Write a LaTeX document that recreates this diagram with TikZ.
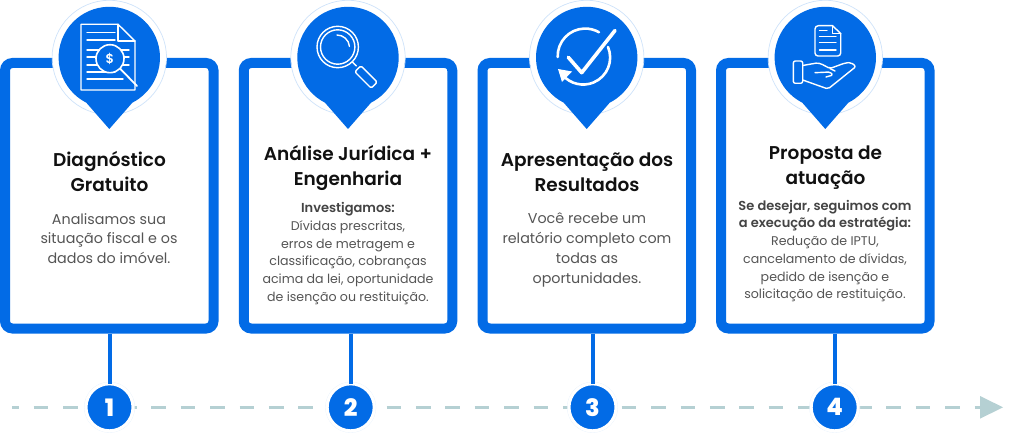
\documentclass[tikz,border=0pt]{standalone}
\usepackage{fontspec}
\setmainfont{Poppins}[BoldFont={Poppins SemiBold}]
\newfontfamily\numfont{Poppins ExtraBold}
\usetikzlibrary{calc}
\definecolor{brand}{HTML}{026BE6}
\definecolor{ringc}{HTML}{CFE3FA}
\definecolor{dashc}{HTML}{B5D0D3}
\definecolor{bodyc}{HTML}{555555}
\definecolor{boldc}{HTML}{444444}
\definecolor{headc}{HTML}{111111}
\newcommand{\boldline}[1]{\textcolor{boldc}{\fontsize{13}{17.6}\selectfont\textbf{#1}}}
\tikzset{
 cardbox/.style={draw=brand,line width=10pt,rounded corners=7.5pt,minimum width=208.5pt,minimum height=265.5pt,inner sep=0,outer sep=0,fill=white},
 headtext/.style={font=\fontsize{18.5}{25}\selectfont\bfseries,text=headc,align=center,inner sep=0},
 bodytext/.style={font=\fontsize{14.3}{19.7}\selectfont,text=bodyc,align=center,inner sep=0},
 smalltext/.style={font=\fontsize{12.6}{17.7}\selectfont,text=bodyc,align=center,inner sep=0},
 numdot/.style={circle,fill=brand,draw=white,line width=3pt,minimum size=47pt,inner sep=0,outer sep=0,text=white,font=\fontsize{24}{24}\selectfont\numfont},
 numring/.style={circle,draw=ringc!50,line width=.4pt,minimum size=50.5pt,inner sep=0},
 stem/.style={draw=brand,line width=4pt},
 icon/.style={draw=white,line width=1.4pt,line join=round,line cap=round},
 flow/.style={draw=dashc,line width=2.4pt,dash pattern=on 14.7pt off 14.7pt,dash phase=7.7pt},
}
\newcommand{\pinshape}[1]{%
 \fill[white] (#1,57.5) circle (57);
 \draw[ringc,line width=.7pt] (#1,57.5) circle (57.2);
 \fill[brand] (#1,129) -- ($(#1,57.5)+(117:50.7)$) arc[start angle=117,end angle=423,radius=50.7] -- cycle;
}
\begin{document}
\begin{tikzpicture}[x=1pt,y=-1pt]
\useasboundingbox (0,0) rectangle (1013,433);
\node[cardbox] (b1) at (109.25,195.75) {};
\node[cardbox] (b2) at (348,195.75) {};
\node[cardbox] (b3) at (586.75,195.75) {};
\node[cardbox] (b4) at (825.25,195.75) {};
\pinshape{109.3}\pinshape{348}\pinshape{586.7}\pinshape{825.3}
% timeline
\coordinate (flowstart) at (12,407.3);
\coordinate (flowend) at (985,407.3);
\draw[flow] (flowstart) -- (flowend);
\fill[dashc] (980,396) -- (1003,407.3) -- (980,418.7) -- cycle;
\node[numring] at (109.5,407.3) {};
\node[numring] at (350.7,407.3) {};
\node[numring] at (592.5,407.3) {};
\node[numring] at (834.7,407.3) {};
\node[numdot] (n1) at (109.5,407.3) {1};
\node[numdot] (n2) at (350.7,407.3) {2};
\node[numdot] (n3) at (592.5,407.3) {3};
\node[numdot] (n4) at (834.7,407.3) {4};
\draw[stem] (n1.north |- b1.south) ++(0,5) -- (n1.north);
\draw[stem] (n2.north |- b2.south) ++(0,5) -- (n2.north);
\draw[stem] (n3.north |- b3.south) ++(0,5) -- (n3.north);
\draw[stem] (n4.north |- b4.south) ++(0,5) -- (n4.north);
% icon 1: document
\draw[icon] (81,24.3) -- (118,24.3) -- (135,41) -- (135,90) -- (81,90) -- cycle;
\draw[icon] (118,24.3) -- (118,41) -- (135,41);
\foreach \yy/\xa/\xb in {32.3/87/115,40/87/115,50/87/129,57/87/129,65/87/129,72/87/115,79/87/123}
  \draw[icon] (\xa,\yy) -- (\xb,\yy);
\draw[icon,fill=brand,line width=1.6pt] (110,58.7) circle (14);
\draw[icon,line width=1.8pt] (120.5,69) -- (137,86);
\node[text=white,font=\fontsize{13}{13}\selectfont\bfseries,inner sep=0] (dollar) at (110,58.7) {\$};
% icon 2: magnifier
\draw[icon] (337.7,47) circle (20.7);
\draw[icon] (337.7,47) circle (17.2);
\draw[icon] (337,35) arc[start angle=-90,end angle=-5,radius=12.5];
\draw[icon] (352.3,62) -- (356.3,66);
\node[icon,draw,rounded corners=1.5pt,minimum width=23pt,minimum height=8.5pt,inner sep=0,rotate=-45] (handle) at (366,77) {};
% icon 3: check with cycle
\draw[icon,line width=2.6pt] (557.7,57) arc[start angle=178,end angle=300,radius=27.5];
\draw[icon,line width=2.6pt] (608,47) arc[start angle=-23,end angle=140,radius=27];
\fill[white] (558,69) -- (572,71.5) -- (562,82) -- cycle;
\draw[icon,line width=3.6pt] (568.3,57.3) -- (581.7,72.7) -- (615,30.5);
% icon 4: hand and document
\draw[icon] (815,29) arc[start angle=180,end angle=270,radius=3.3] -- (832.5,25.7) -- (840.7,33.5) -- (840.7,53) arc[start angle=0,end angle=90,radius=3] -- (818,56) arc[start angle=90,end angle=180,radius=3] -- cycle;
\draw[icon] (832.5,25.7) -- (832.5,33.5) -- (840.7,33.5);
\draw[icon] (819.5,30.7) -- (827,30.7);
\draw[icon] (819.5,36.7) -- (836,36.7);
\draw[icon] (819.5,42.7) -- (836,42.7);
\draw[icon] (819.5,50) -- (836,50);
\draw[icon,rounded corners=2pt] (793.3,61) rectangle (802.7,83.3);
\draw[icon,rounded corners=2pt] (802.7,65.5) -- (814,63.5) .. controls (820,62.5) and (825,66) .. (830,68.5) -- (845,63) -- (851,62.5) -- (856,66.5) -- (828,89) -- (802.7,80);
\draw[icon,rounded corners=1.5pt] (815,72.7) -- (830,72) -- (833,75) -- (826,77);
\draw[icon] (830,68.5) -- (835,71);
% card texts
\node[headtext] (t1) at (109.5,172) {Diagnóstico\\Gratuito};
\node[bodytext] (d1) at (109,238.5) {Analisamos sua\\situação fiscal e os\\dados do imóvel.};
\node[headtext] (t2) at (348,168) {Análise Jurídica +\\Engenharia};
\node[smalltext] (d2) at (348,253.5) {\boldline{Investigamos:}\\Dívidas prescritas,\\erros de metragem e\\classificação, cobranças\\acima da lei, oportunidade\\de isenção ou restituição.};
\node[headtext] (t3) at (587,172.5) {Apresentação dos\\Resultados};
\node[bodytext] (d3) at (587,250) {Você recebe um\\relatório completo com\\todas as\\oportunidades.};
\node[headtext] (t4) at (825.5,168) {Proposta de\\atuação};
\node[smalltext] (d4) at (825,251) {\boldline{Se desejar, seguimos com}\\\boldline{a execução da estratégia:}\\Redução de IPTU,\\cancelamento de dívidas,\\pedido de isenção e\\solicitação de restituição.};
\end{tikzpicture}
\end{document}
